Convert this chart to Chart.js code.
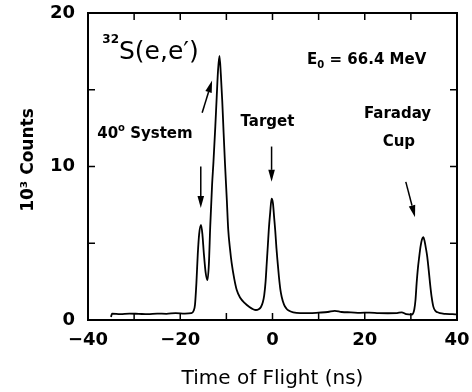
<!DOCTYPE html>
<html lang="en">
<head>
    <meta charset="UTF-8">
    <title>32S(e,e') time of flight</title>
    <script src="https://cdn.jsdelivr.net/npm/chart.js@4.4.1/dist/chart.umd.min.js"></script>
</head>
<body style="margin: 0; background-color: white;">
    <canvas id="tofChart" width="472" height="392"></canvas>
    <script>
        // time of flight (ns) and counts (units of 10^3)
        const tofNs = [
            -35, -34.8, -33, -31, -29, -27, -25, -23, -21, -19, -17.6, -17.1, -16.8, -16.5,
            -16.2, -15.9, -15.5, -15.2, -14.9, -14.5, -14.1, -13.8, -13.5, -13.1, -12.8,
            -12.4, -12.1, -11.8, -11.5, -11.2, -10.9, -10.6, -10.3, -9.9, -9.6, -9.2, -8.85,
            -8.3, -7.75, -7.0, -6.0, -5.0, -4.2, -3.6, -3.0, -2.5, -2.1, -1.8, -1.5, -1.25,
            -1.0, -0.8, -0.5, -0.2, 0.1, 0.35, 0.6, 0.85, 1.1, 1.4, 1.7, 2.0, 2.5, 3.0, 3.5,
            4.5, 6, 8, 10, 12, 13.5, 15, 17, 19, 21, 23, 25, 27, 28, 29, 30.2, 30.75, 31.0,
            31.25, 31.5, 31.8, 32.1, 32.4, 32.7, 33.0, 33.3, 33.56, 33.85, 34.15, 34.5, 34.87,
            35.3, 35.8, 36.3, 37.5, 39, 40
        ];
        const counts = [
            0.2, 0.42, 0.38, 0.42, 0.4, 0.38, 0.42, 0.4, 0.45, 0.42, 0.45, 0.6, 1.0, 2.4,
            4.3, 5.6, 6.2, 5.6, 4.4, 3.1, 2.6, 3.6, 6.1, 8.8, 10.3,
            12.6, 14.5, 16.3, 17.2, 16.0, 14.3, 12.2, 10.2, 7.8, 5.9, 4.6, 3.7,
            2.7, 1.95, 1.45, 1.1, 0.85, 0.7, 0.65, 0.7, 0.85, 1.15, 1.6, 2.5, 3.7,
            4.9, 5.9, 7.0, 7.9, 7.6, 6.7, 5.8, 4.7, 3.8, 2.8, 2.0, 1.5, 1.0, 0.75, 0.62,
            0.5, 0.45, 0.45, 0.48, 0.52, 0.6, 0.52, 0.5, 0.47, 0.48, 0.45, 0.44, 0.45, 0.5, 0.38, 0.35, 0.7, 1.3,
            2.4, 3.3, 4.1, 4.8, 5.25, 5.4, 5.1, 4.6, 4.1, 3.3, 2.4, 1.5, 0.87,
            0.6, 0.5, 0.44, 0.4, 0.38, 0.36
        ];

        const xTicks = [-40, -30, -20, -10, 0, 10, 20, 30, 40];
        const yTicks = [0, 5, 10, 15, 20];

        // arrows pointing at the peaks, in data units [x, y]
        const arrows = [
            { from: [-15.55, 10.0], to: [-15.55, 7.3] },
            { from: [-15.25, 13.5], to: [-13.1, 15.6] },
            { from: [-0.2, 11.3], to: [-0.2, 9.0] },
            { from: [28.9, 9.0], to: [30.9, 6.7] }
        ];

        const FONT = '"DejaVu Sans", sans-serif';

        // draw a run of text pieces, some raised or lowered
        function drawPieces(ctx, pieces, px, py, align) {
            let total = 0;
            pieces.forEach(p => {
                ctx.font = p.weight + ' ' + p.size + 'px ' + FONT;
                p.w = ctx.measureText(p.text).width;
                total += p.w;
            });
            let cx = align === 'center' ? px - total / 2 : px;
            pieces.forEach(p => {
                ctx.font = p.weight + ' ' + p.size + 'px ' + FONT;
                ctx.fillText(p.text, cx, py + (p.dy || 0));
                cx += p.w;
            });
        }

        const framePlugin = {
            id: 'frame',
            afterDatasetsDraw(chart) {
                const { ctx, chartArea: a, scales: { x, y } } = chart;
                ctx.save();
                ctx.strokeStyle = 'black';
                ctx.lineWidth = 2;
                ctx.strokeRect(a.left, a.top, a.right - a.left, a.bottom - a.top);
                // inward tick marks on all four sides
                ctx.lineWidth = 1.5;
                ctx.beginPath();
                xTicks.slice(1, -1).forEach(v => {
                    const px = x.getPixelForValue(v);
                    ctx.moveTo(px, a.bottom); ctx.lineTo(px, a.bottom - 7);
                    ctx.moveTo(px, a.top); ctx.lineTo(px, a.top + 7);
                });
                yTicks.slice(1, -1).forEach(v => {
                    const py = y.getPixelForValue(v);
                    ctx.moveTo(a.left, py); ctx.lineTo(a.left + 7, py);
                    ctx.moveTo(a.right, py); ctx.lineTo(a.right - 7, py);
                });
                ctx.stroke();

                // arrows
                ctx.fillStyle = 'black';
                arrows.forEach(ar => {
                    const x1 = x.getPixelForValue(ar.from[0]), y1 = y.getPixelForValue(ar.from[1]);
                    const x2 = x.getPixelForValue(ar.to[0]), y2 = y.getPixelForValue(ar.to[1]);
                    const ang = Math.atan2(y2 - y1, x2 - x1);
                    const hl = 12, hw = 3.3;
                    ctx.beginPath();
                    ctx.moveTo(x1, y1);
                    ctx.lineTo(x2 - hl * Math.cos(ang), y2 - hl * Math.sin(ang));
                    ctx.stroke();
                    ctx.beginPath();
                    ctx.moveTo(x2, y2);
                    ctx.lineTo(x2 - hl * Math.cos(ang) + hw * Math.sin(ang), y2 - hl * Math.sin(ang) - hw * Math.cos(ang));
                    ctx.lineTo(x2 - hl * Math.cos(ang) - hw * Math.sin(ang), y2 - hl * Math.sin(ang) + hw * Math.cos(ang));
                    ctx.closePath();
                    ctx.fill();
                });

                // labels
                ctx.textBaseline = 'middle';
                ctx.textAlign = 'left';
                drawPieces(ctx, [
                    { text: '32', size: 12, weight: 'bold', dy: -13 },
                    { text: 'S(e,e\u2032)', size: 25, weight: 'normal' }
                ], x.getPixelForValue(-36.9), y.getPixelForValue(17.4), 'left');
                drawPieces(ctx, [
                    { text: 'E', size: 15, weight: 'bold' },
                    { text: '0', size: 10, weight: 'bold', dy: 5 },
                    { text: ' = 66.4 MeV', size: 15, weight: 'bold' }
                ], x.getPixelForValue(7.5), y.getPixelForValue(16.9), 'left');
                drawPieces(ctx, [
                    { text: '40', size: 15, weight: 'bold' },
                    { text: 'o', size: 10, weight: 'bold', dy: -6 },
                    { text: ' System', size: 15, weight: 'bold' }
                ], x.getPixelForValue(-38.0), y.getPixelForValue(12.1), 'left');
                drawPieces(ctx, [{ text: 'Target', size: 15, weight: 'bold' }],
                    x.getPixelForValue(-1.1), y.getPixelForValue(12.9), 'center');
                drawPieces(ctx, [{ text: 'Faraday', size: 15, weight: 'bold' }],
                    x.getPixelForValue(27.1), y.getPixelForValue(13.4), 'center');
                drawPieces(ctx, [{ text: 'Cup', size: 15, weight: 'bold' }],
                    x.getPixelForValue(27.4), y.getPixelForValue(11.6), 'center');

                // y axis title, rotated
                ctx.translate(29, 160);
                ctx.rotate(-Math.PI / 2);
                drawPieces(ctx, [{ text: '10\u00b3 Counts', size: 17, weight: 'bold' }], 0, 0, 'center');
                ctx.restore();
            }
        };

        const ctx = document.getElementById('tofChart');
        const tofChart = new Chart(ctx, {
            type: 'line',
            data: {
                datasets: [{
                    label: 'counts',
                    data: tofNs.map((t, i) => ({ x: t, y: counts[i] })),
                    borderColor: 'black',
                    borderWidth: 1.8,
                    pointRadius: 0,
                    fill: false,
                    cubicInterpolationMode: 'monotone'
                }]
            },
            options: {
                responsive: false,
                animation: false,
                layout: { padding: { top: 13, right: 15, left: 0, bottom: 0 } },
                scales: {
                    x: {
                        type: 'linear',
                        min: -40,
                        max: 40,
                        afterBuildTicks: s => { s.ticks = xTicks.map(v => ({ value: v })); },
                        afterFit: s => {
                            s.height = 72;
                            s.paddingLeft = 0;
                            s.paddingRight = 0;
                        },
                        grid: { display: false, drawTicks: false },
                        border: { display: false },
                        ticks: {
                            color: 'black',
                            padding: 10,
                            maxRotation: 0,
                            autoSkip: false,
                            font: { family: FONT, size: 18, weight: 'bold' },
                            callback: v => v % 20 === 0 ? String(v).replace('-', '\u2212') : ''
                        },
                        title: {
                            display: true,
                            text: 'Time of Flight (ns)',
                            color: 'black',
                            font: { family: FONT, size: 20 },
                            padding: { top: 0, bottom: 1 }
                        }
                    },
                    y: {
                        min: 0,
                        max: 20,
                        afterBuildTicks: s => { s.ticks = yTicks.map(v => ({ value: v })); },
                        afterFit: s => {
                            s.width = 88;
                            s.paddingTop = 0;
                            s.paddingBottom = 0;
                        },
                        grid: { display: false, drawTicks: false },
                        border: { display: false },
                        ticks: {
                            color: 'black',
                            padding: 13,
                            autoSkip: false,
                            font: { family: FONT, size: 18, weight: 'bold' },
                            callback: v => v % 10 === 0 ? String(v) : ''
                        },
                        title: { display: false }
                    }
                },
                plugins: {
                    legend: { display: false },
                    tooltip: { enabled: false }
                }
            },
            plugins: [framePlugin]
        });
    </script>
</body>
</html>
